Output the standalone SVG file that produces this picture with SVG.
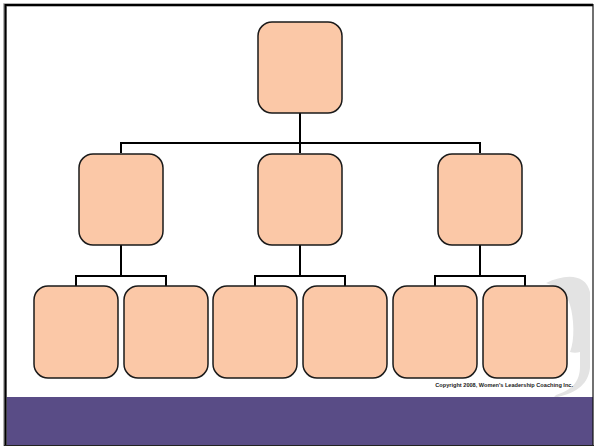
<svg xmlns="http://www.w3.org/2000/svg" width="594" height="446" viewBox="0 0 594 446">
  <style>
    .node rect { fill: #fbc8a7; stroke: #1a1a1a; stroke-width: 1.5; }
    .wire { fill: none; stroke: #000; stroke-width: 2; }
    .note { font-family: "Liberation Sans", Arial, sans-serif; font-weight: bold; font-size: 5.6px; fill: #222; }
  </style>

  <!-- page -->
  <rect x="0" y="0" width="594" height="446" fill="#fff"/>

  <!-- decorative swoosh on the right -->
  <path d="M 546,283 C 566,273 586,274 590,292 L 590,368 C 588,386 574,394 553,398 L 556,395 C 571,390 580,383 580,366 L 580,352 C 577,353 573,353 570,352 C 575,340 574,318 570,305 C 567,294 558,287 546,283 Z" fill="#e3e3e3"/>

  <!-- footer band -->
  <rect x="6" y="397" width="587" height="48" fill="#594c86"/>

  <!-- frame -->
  <g fill="none">
    <path d="M 5,446 L 5,5 L 593,5" stroke="#9a9a9a" stroke-width="3.5"/>
    <path d="M 5.5,446 L 5.5,5 L 593,5" stroke="#000" stroke-width="2"/>
    <line x1="593" y1="4" x2="593" y2="446" stroke="#111" stroke-width="1.2"/>
    <line x1="4" y1="445.5" x2="594" y2="445.5" stroke="#222" stroke-width="1"/>
  </g>

  <!-- connectors -->
  <g id="connectors" class="wire">
    <path d="M 300,113 L 300,143"/>
    <path d="M 121,153 L 121,143 L 480,143 L 480,153"/>
    <path d="M 300,143 L 300,153"/>
    <path d="M 121,245 L 121,276"/>
    <path d="M 76,286 L 76,276 L 166,276 L 166,286"/>
    <path d="M 300,245 L 300,276"/>
    <path d="M 255,286 L 255,276 L 345,276 L 345,286"/>
    <path d="M 480,245 L 480,276"/>
    <path d="M 435,286 L 435,276 L 525,276 L 525,286"/>
  </g>

  <!-- top level -->
  <g id="root" class="node"><rect x="258" y="22" width="84" height="91" rx="14"/></g>

  <!-- second level -->
  <g id="mid-left" class="node"><rect x="79" y="154" width="84" height="91" rx="14"/></g>
  <g id="mid-center" class="node"><rect x="258" y="154" width="84" height="91" rx="14"/></g>
  <g id="mid-right" class="node"><rect x="438" y="154" width="84" height="91" rx="14"/></g>

  <!-- third level -->
  <g id="leaf-1" class="node"><rect x="34" y="286" width="84" height="92" rx="14"/></g>
  <g id="leaf-2" class="node"><rect x="124" y="286" width="84" height="92" rx="14"/></g>
  <g id="leaf-3" class="node"><rect x="213" y="286" width="84" height="92" rx="14"/></g>
  <g id="leaf-4" class="node"><rect x="303" y="286" width="84" height="92" rx="14"/></g>
  <g id="leaf-5" class="node"><rect x="393" y="286" width="84" height="92" rx="14"/></g>
  <g id="leaf-6" class="node"><rect x="483" y="286" width="84" height="92" rx="14"/></g>

  <text class="note" x="573" y="387" text-anchor="end">Copyright 2008, Women's Leadership Coaching Inc.</text>
</svg>
